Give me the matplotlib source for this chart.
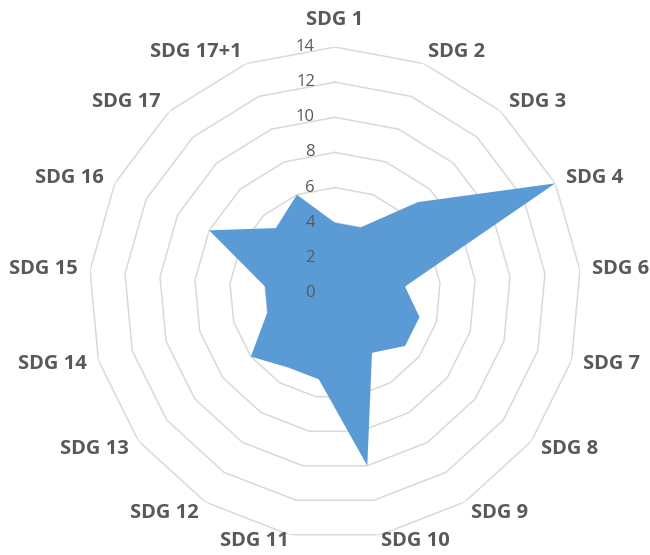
import matplotlib; matplotlib.use('Agg')
import matplotlib.pyplot as plt, numpy as np
from matplotlib.transforms import offset_copy

plt.rcParams.update({'font.family': ['Open Sans', 'DejaVu Sans']})
FILL, GRID, TXT = '#5b9bd5', '#d9d9d9', '#595959'

categories = ['SDG 1', 'SDG 2', 'SDG 3', 'SDG 4', 'SDG 6', 'SDG 7', 'SDG 8', 'SDG 9',
              'SDG 10', 'SDG 11', 'SDG 12', 'SDG 13', 'SDG 14', 'SDG 15', 'SDG 16',
              'SDG 17', 'SDG 17+1']
values = [4, 4, 7, 14, 4, 5, 5, 4, 10, 5, 5, 6, 4, 4, 8, 5, 6]
rings = [0, 2, 4, 6, 8, 10, 12, 14]

n = len(categories)
theta = np.arange(n) * 2 * np.pi / n
tc = np.append(theta, theta[0])

fig = plt.figure(figsize=(6.5, 5.55), dpi=100)
ax = fig.add_axes([0.1369, 0.0288, 0.757, 0.8865], projection='polar')
ax.set_theta_zero_location('N')
ax.set_theta_direction(-1)
ax.set_ylim(0, 14)
ax.grid(False)
ax.spines['polar'].set_visible(False)
ax.set_xticks([])
ax.set_yticks([])
ax.patch.set_alpha(0)

# polygon rings
for r in rings[1:]:
    ax.plot(tc, [r] * (n + 1), color=GRID, lw=1.1, zorder=1)

vc = np.append(values, values[0])
ax.fill(tc, vc, color=FILL, lw=0, zorder=2)

# radial value labels, left of the vertical axis
tr = offset_copy(ax.transData, fig=fig, x=-20, y=0, units='dots')
for r in rings:
    ax.text(0, r, str(r), transform=tr, ha='right', va='center',
            fontsize=12, color=TXT, zorder=3)

# category labels
for t, lab in zip(theta, categories):
    s, c = np.sin(t), np.cos(t)
    ha = 'center' if abs(s) < 0.1 else ('left' if s > 0 else 'right')
    rr = 15.55 if abs(s) < 0.1 else (14.35 if c < -0.95 else 14.7)
    ax.text(t, rr, lab, ha=ha, va='center', fontsize=14.5, fontweight='bold',
            color=TXT)

fig.savefig('out.png', dpi=100)
